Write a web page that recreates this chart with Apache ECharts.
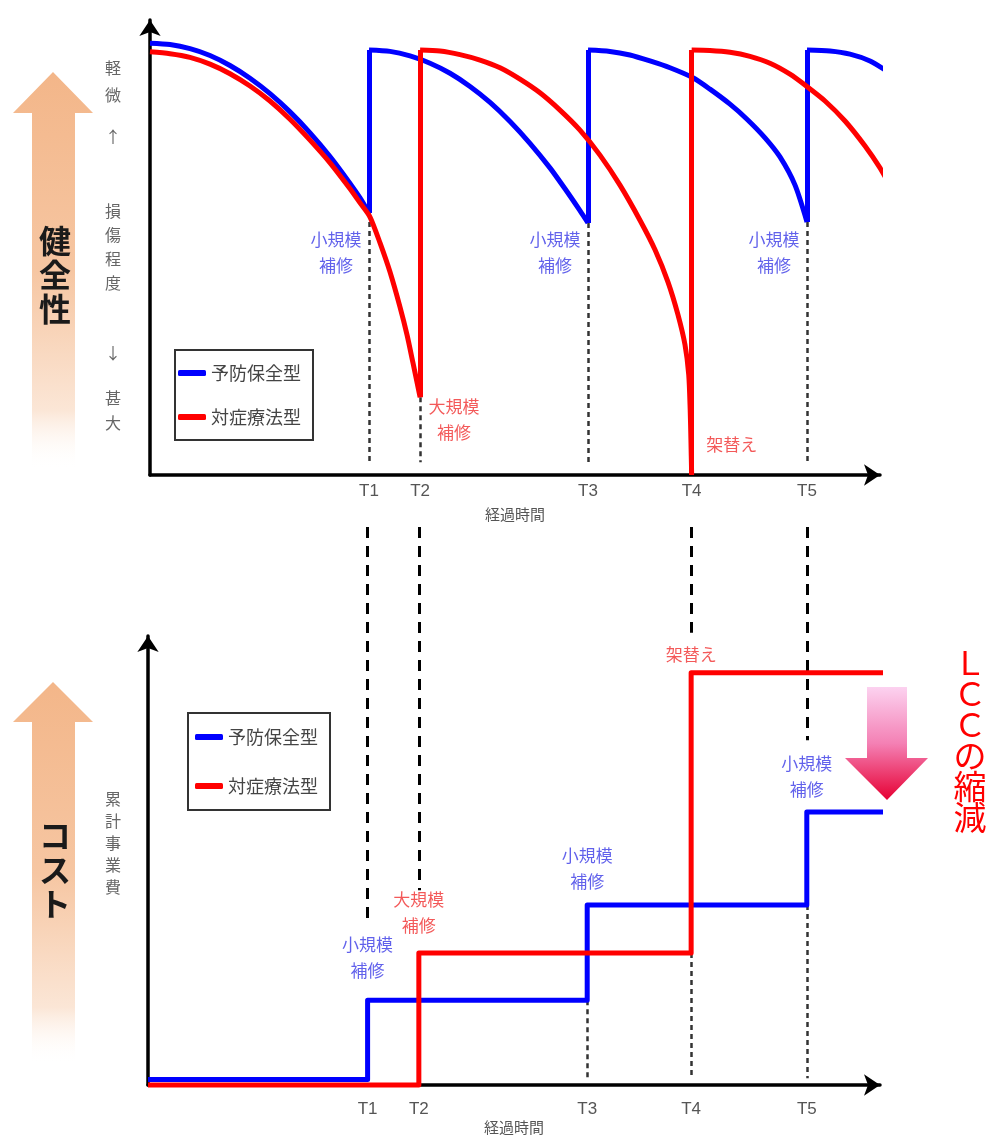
<!DOCTYPE html>
<html><head><meta charset="utf-8">
<script src="https://cdn.jsdelivr.net/npm/echarts@6/dist/echarts.min.js"></script>
<style>html,body{margin:0;padding:0;background:#fff}#c{width:989px;height:1140px}</style>
</head><body><div id="c"></div>
<script>
// ---------- data ----------
const tickLabels = ['T1', 'T2', 'T3', 'T4', 'T5'];
const tickTimes = [30, 37, 60, 74.2, 90];
const seriesNames = ['予防保全型', '対症療法型'];

// 健全性 (upper chart): one array per deterioration arc  [time, soundness]
const healthPreventiveArc1 = [[0, 94.9], [2.74, 94.6], [5.48, 93.7], [8.22, 92.2], [10.96, 90.0], [13.7, 87.2], [16.44, 83.8], [19.18, 79.8], [21.92, 75.2], [24.66, 70.0], [27.4, 64.1], [28.77, 60.9], [30, 57.6]];
const healthPreventiveArc2 = [[30, 93.4], [32.88, 93.1], [35.62, 92.1], [38.36, 90.5], [41.1, 88.3], [43.84, 85.4], [46.58, 81.9], [49.32, 77.7], [52.05, 72.9], [54.79, 67.5], [56.85, 62.9], [58.9, 58.1], [60, 55.4]];
const healthPreventiveArc3 = [[60, 93.4], [63.01, 93.1], [65.75, 92.3], [68.49, 91.0], [71.23, 89.5], [74.38, 87.3], [76.71, 84.8], [79.45, 81.5], [81.78, 78.2], [84.25, 74.1], [86.3, 69.9], [88.36, 63.7], [90, 55.6]];
const healthPreventiveArc4 = [[90, 93.4], [93.15, 93.2], [95.89, 92.5], [98.63, 91.0], [101.1, 88.6]];
const healthReactiveArc1 = [[0, 93.0], [2.74, 92.6], [5.48, 91.8], [8.22, 90.3], [10.96, 88.2], [13.7, 85.5], [16.44, 82.2], [19.18, 78.2], [21.92, 73.6], [24.66, 68.6], [27.4, 62.9], [28.77, 59.8], [30.14, 56.7], [31.51, 51.0], [32.88, 44.6], [34.25, 36.9], [35.21, 30.8], [36.03, 24.6], [37, 17.1]];
const healthReactiveArc2 = [[37, 93.4], [39.73, 93.2], [42.47, 92.4], [45.21, 91.2], [47.95, 89.5], [50.68, 87.0], [53.42, 84.0], [56.16, 80.2], [58.9, 75.8], [61.64, 70.3], [64.38, 63.7], [67.12, 56.0], [69.18, 49.5], [70.96, 42.4], [72.33, 35.2], [73.29, 28.6], [73.8, 22.0], [74.0, 14.3], [74.1, 7.7], [74.2, 0]];
const healthReactiveArc3 = [[74.2, 93.4], [76.71, 93.3], [79.45, 92.9], [82.19, 92.0], [84.93, 90.5], [87.67, 88.1], [89.9, 85.5], [92.47, 82.2], [95.21, 77.8], [97.95, 72.3], [100.0, 67.5], [101.1, 64.4]];

// 累計事業費 (lower chart)
const costPreventive = [[0, 1.2], [30, 1.2], [30, 18.9], [60, 18.9], [60, 40.1], [90, 40.1], [90, 60.8], [101.1, 60.8]];
const costReactive = [[0, 0], [37, 0], [37, 29.4], [74.2, 29.4], [74.2, 91.8], [101.1, 91.8]];

// annotations: [time, level, text, seriesIndex]
const healthNotes = [
  [30, 49, '小規模\n補修', 0], [60, 49, '小規模\n補修', 0], [90, 49, '小規模\n補修', 0],
  [37, 12.1, '大規模\n補修', 1], [74.2, 6.8, '架替え', 1]
];
const costNotes = [
  [30, 28.3, '小規模\n補修', 0], [60, 48.3, '小規模\n補修', 0], [90, 68.6, '小規模\n補修', 0],
  [37, 38.3, '大規模\n補修', 1], [74.2, 95.8, '架替え', 1]
];
// dashed links between charts: [time, lower end level on cost axis]
const linkEnds = [[30, 36.7], [37, 43.4], [74.2, 100.7], [90, 76.8]];
const linkTop = 124.3;

// ---------- styles ----------
const BLUE = '#0000ff', RED = '#ff0000';
const NOTE_COL = ['#3a3ae6', '#f03030'];
const CJK = '"Noto Sans CJK JP", sans-serif';

const preventiveArcs = [healthPreventiveArc1, healthPreventiveArc2, healthPreventiveArc3, healthPreventiveArc4];
const reactiveArcs = [healthReactiveArc1, healthReactiveArc2, healthReactiveArc3];

function guideSegs(seriesList, minLen, endLevel) {
  const segs = [];
  tickTimes.forEach(t => {
    let lo = Infinity;
    seriesList.forEach(s => s.forEach(p => { if (p[0] === t) lo = Math.min(lo, p[1]); }));
    if (lo !== Infinity && lo > minLen) segs.push({ coords: [[t, lo], [t, endLevel]] });
  });
  return segs;
}
function jumps(arcs) {
  const out = [];
  for (let i = 0; i + 1 < arcs.length; i++) {
    out.push({ coords: [arcs[i][arcs[i].length - 1], arcs[i + 1][0]] });
  }
  return out;
}

const topOffsets = [-33, -33, -33, 34, 40];
function noteData(notes, offsets) {
  return notes.map((n, i) => ({
    value: [n[0], n[1]], name: n[2],
    label: { offset: [offsets ? offsets[i] : 0, 0], color: NOTE_COL[n[3]] }
  }));
}

function xAxisCfg(gridIndex, margin, nameGap) {
  return {
    gridIndex, type: 'value', min: 0, max: 100,
    axisLine: { show: true, symbol: ['none', 'arrow'], symbolSize: [16, 16], lineStyle: { color: '#000', width: 3.5 } },
    axisTick: { show: false }, splitLine: { show: false },
    axisLabel: {
      customValues: tickTimes, margin, fontSize: 17, color: '#555', fontFamily: 'Liberation Sans',
      formatter: v => tickLabels[tickTimes.indexOf(v)] || ''
    },
    name: '経過時間', nameLocation: 'middle', nameGap,
    nameTextStyle: { fontSize: 15, color: '#555', fontFamily: CJK }
  };
}
function yAxisCfg(gridIndex) {
  return {
    gridIndex, type: 'value', min: 0, max: 100,
    axisLine: { show: true, symbol: ['none', 'arrow'], symbolSize: [16, 16], lineStyle: { color: '#000', width: 3.5 } },
    axisTick: { show: false }, axisLabel: { show: false }, splitLine: { show: false }
  };
}
function legendCfg(left, top, gap, padding) {
  return {
    left, top, orient: 'vertical', data: seriesNames, selectedMode: false,
    icon: 'roundRect', itemWidth: 28, itemHeight: 6, itemGap: gap, padding,
    borderColor: '#333', borderWidth: 2, backgroundColor: '#fff',
    textStyle: { fontSize: 18, color: '#444', fontFamily: CJK, lineHeight: 20 }
  };
}
function lineSeries(name, data, color, xi, z, smooth) {
  return {
    type: 'line', name, data, xAxisIndex: xi, yAxisIndex: xi, color,
    symbol: 'none', clip: false, z, smooth: smooth || false,
    lineStyle: { color, width: 5, join: 'round' }
  };
}
function jumpSeries(arcs, color, z) {
  return {
    type: 'lines', coordinateSystem: 'cartesian2d', xAxisIndex: 0, yAxisIndex: 0, clip: false, z,
    lineStyle: { color, width: 5, opacity: 1 }, data: jumps(arcs)
  };
}
function vText(text, x, y, size, lh, fill, weight) {
  return { type: 'text', x, y, silent: true,
    style: { text, fill, fontSize: size, fontFamily: CJK, fontWeight: weight || 'normal', lineHeight: lh, align: 'center', verticalAlign: 'middle' } };
}
const G = echarts.graphic;
const peach = () => new G.LinearGradient(0, 0, 0, 1, [
  { offset: 0, color: '#f3b689' }, { offset: 0.5, color: '#f6c6a2' }, { offset: 0.85, color: '#fbe6d6' }, { offset: 1, color: 'rgba(255,255,255,0)' }]);

const series = [
  {
    type: 'lines', coordinateSystem: 'cartesian2d', xAxisIndex: 0, yAxisIndex: 0, clip: false, z: 1,
    lineStyle: { color: '#333', width: 2.5, type: [5, 4], opacity: 1 },
    data: guideSegs(preventiveArcs.concat(reactiveArcs), 5, 2.8)
  },
  {
    type: 'lines', coordinateSystem: 'cartesian2d', xAxisIndex: 1, yAxisIndex: 1, clip: false, z: 1,
    lineStyle: { color: '#333', width: 2.5, type: [5, 4], opacity: 1 },
    data: guideSegs([costPreventive, costReactive], 5, 1.5)
  },
  {
    type: 'lines', coordinateSystem: 'cartesian2d', xAxisIndex: 1, yAxisIndex: 1, clip: false, z: 1,
    lineStyle: { color: '#000', width: 3, type: [11, 8], opacity: 1 },
    data: linkEnds.map(l => ({ coords: [[l[0], linkTop], [l[0], l[1]]] }))
  }
];
preventiveArcs.forEach(a => series.push(lineSeries(seriesNames[0], a, BLUE, 0, 3, 0.25)));
series.push(jumpSeries(preventiveArcs, BLUE, 3));
reactiveArcs.forEach(a => series.push(lineSeries(seriesNames[1], a, RED, 0, 4, 0.25)));
series.push(jumpSeries(reactiveArcs, RED, 4));
series.push(lineSeries(seriesNames[0], costPreventive, BLUE, 1, 3));
series.push(lineSeries(seriesNames[1], costReactive, RED, 1, 4));
series.push({
  type: 'scatter', xAxisIndex: 0, yAxisIndex: 0, symbolSize: 1, itemStyle: { color: 'transparent' }, z: 5,
  label: { show: true, position: 'inside', formatter: '{b}', fontSize: 17, lineHeight: 26, fontFamily: CJK, align: 'center' },
  data: noteData(healthNotes, topOffsets)
});
series.push({
  type: 'scatter', xAxisIndex: 1, yAxisIndex: 1, symbolSize: 1, itemStyle: { color: 'transparent' }, z: 5,
  label: { show: true, position: 'inside', formatter: '{b}', fontSize: 17, lineHeight: 26, fontFamily: CJK, align: 'center' },
  data: noteData(costNotes, null)
});

const option = {
  animation: false,
  backgroundColor: '#fff',
  grid: [
    { left: 150, top: 20, width: 730, height: 455 },
    { left: 148, top: 636, width: 732, height: 449 }
  ],
  xAxis: [xAxisCfg(0, 8, 32), xAxisCfg(1, 16, 35)],
  yAxis: [yAxisCfg(0), yAxisCfg(1)],
  legend: [
    legendCfg(175, 350, 24, [13, 12, 13, 3]),
    legendCfg(188, 713, 29, [14, 12, 14, 7])
  ],
  series,
  graphic: [
    { type: 'polygon', silent: true, z: -1, shape: { points: [[53, 72], [93, 113], [75, 113], [75, 470], [32, 470], [32, 113], [13, 113]] }, style: { fill: peach() } },
    { type: 'polygon', silent: true, z: -1, shape: { points: [[53, 682], [93, 722], [75, 722], [75, 1065], [32, 1065], [32, 722], [13, 722]] }, style: { fill: peach() } },
    { type: 'polygon', silent: true, shape: { points: [[867, 687], [907, 687], [907, 758], [928, 758], [887, 800], [845, 758], [867, 758]] },
      style: { fill: new G.LinearGradient(0, 0, 0, 1, [{ offset: 0, color: '#fcd2f0' }, { offset: 0.5, color: '#f480b4' }, { offset: 1, color: '#e60033' }]) } },
    vText('健\n全\n性', 55, 275, 32, 34, '#1a1a1a', 'bold'),
    vText('コ\nス\nト', 55, 870, 32, 34, '#1a1a1a', 'bold'),
    vText('Ｌ\nＣ\nＣ\nの\n縮\n減', 970, 740, 33, 31, '#ff0000', 'normal'),
    vText('軽\n微', 113, 81, 16, 27, '#666'),
    vText('↑', 113, 137, 16, 20, '#666'),
    vText('損\n傷\n程\n度', 113, 247, 16, 24, '#666'),
    vText('↓', 113, 353, 16, 20, '#666'),
    vText('甚\n大', 113, 410, 16, 25, '#666'),
    vText('累\n計\n事\n業\n費', 113, 843, 16, 22, '#666')
  ]
};
const chart = echarts.init(document.getElementById('c'), null, { renderer: 'canvas' });
chart.setOption(option);
</script>
</body></html>
